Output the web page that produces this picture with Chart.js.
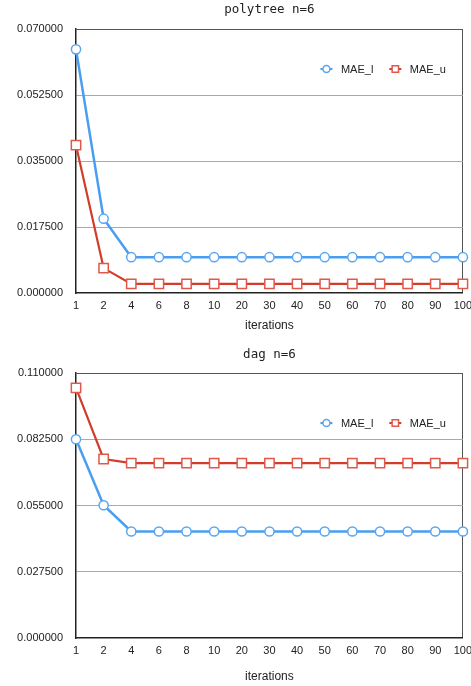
<!DOCTYPE html>
<html><head><meta charset="utf-8">
<script src="https://cdn.jsdelivr.net/npm/chart.js@4/dist/chart.umd.min.js"></script>
<style>
html,body{margin:0;padding:0;background:#fff;}
.w{position:relative;width:471px;height:343px;}
</style>
</head><body>
<div class="w"><canvas id="c1"></canvas></div>
<div class="w"><canvas id="c2"></canvas></div>
<script>
// ---- data ----
const iterations = ['1','2','4','6','8','10','20','30','40','50','60','70','80','90','100'];

const polytreeMAE_l = [0.0646, 0.0197, 0.0095, 0.0095, 0.0095, 0.0095, 0.0095, 0.0095, 0.0095, 0.0095, 0.0095, 0.0095, 0.0095, 0.0095, 0.0095];
const polytreeMAE_u = [0.0392, 0.0066, 0.0024, 0.0024, 0.0024, 0.0024, 0.0024, 0.0024, 0.0024, 0.0024, 0.0024, 0.0024, 0.0024, 0.0024, 0.0024];

const dagMAE_l = [0.0825, 0.0551, 0.0442, 0.0442, 0.0442, 0.0442, 0.0442, 0.0442, 0.0442, 0.0442, 0.0442, 0.0442, 0.0442, 0.0442, 0.0442];
const dagMAE_u = [0.1038, 0.0743, 0.0726, 0.0726, 0.0726, 0.0726, 0.0726, 0.0726, 0.0726, 0.0726, 0.0726, 0.0726, 0.0726, 0.0726, 0.0726];

const polytreeYTicks = [0, 0.0175, 0.035, 0.0525, 0.07];
const dagYTicks = [0, 0.0275, 0.055, 0.0825, 0.11];

const seriesNames = ['MAE_l', 'MAE_u'];
const chartTitles = ['polytree n=6', 'dag n=6'];
const xAxisTitle = 'iterations';

// ---- styling ----
Chart.defaults.font.family = '"Liberation Sans", Arial, Helvetica, sans-serif';
Chart.defaults.font.size = 11;
Chart.defaults.color = '#222';

const BLUE = '#4a9ef2', BLUE_PT = '#5aa6f2';
const RED = '#d23c2a', RED_PT = '#e0584a';

const insideLegend = {
  id: 'insideLegend',
  afterDraw(chart, args, opts) {
    const ctx = chart.ctx, area = chart.chartArea;
    const y = area.top + opts.offsetY;
    ctx.save();
    ctx.font = '11px "Liberation Sans", Arial, sans-serif';
    ctx.textBaseline = 'middle';
    ctx.textAlign = 'left';
    let x = area.right - 17;
    const items = chart.data.datasets.slice().reverse();
    for (const ds of items) {
      const w = ctx.measureText(ds.label).width;
      const tx = x - w;
      ctx.fillStyle = '#222';
      ctx.fillText(ds.label, tx, y + 0.5);
      const cx = tx - 14.5;
      ctx.strokeStyle = ds.borderColor; ctx.lineWidth = 2;
      ctx.beginPath(); ctx.moveTo(cx - 6, y); ctx.lineTo(cx + 6, y); ctx.stroke();
      ctx.fillStyle = '#fff'; ctx.strokeStyle = ds.pointBorderColor; ctx.lineWidth = 1.5;
      ctx.beginPath();
      if (ds.pointStyle === 'rect') ctx.rect(cx - 3.2, y - 3.2, 6.4, 6.4);
      else ctx.arc(cx, y, 3.5, 0, Math.PI * 2);
      ctx.fill(); ctx.stroke();
      x = cx - 6 - 16;
    }
    ctx.restore();
  }
};

function makeChart(id, title, lData, uData, yTicks, layoutOpts) {
  const yMin = yTicks[0], yMax = yTicks[yTicks.length - 1];
  return new Chart(document.getElementById(id), {
    type: 'line',
    data: {
      labels: iterations,
      datasets: [
        { label: seriesNames[0], data: lData, borderColor: BLUE, borderWidth: 2.5,
          pointStyle: 'circle', pointRadius: 4.6, pointBorderWidth: 1.5,
          pointBackgroundColor: '#fff', pointBorderColor: BLUE_PT, tension: 0 },
        { label: seriesNames[1], data: uData, borderColor: RED, borderWidth: 2.2,
          pointStyle: 'rect', pointRadius: 6.6, pointBorderWidth: 1.5,
          pointBackgroundColor: '#fff', pointBorderColor: RED_PT, tension: 0 }
      ]
    },
    plugins: [insideLegend],
    options: {
      responsive: true, maintainAspectRatio: false, animation: false,
      layout: { padding: 0 },
      plugins: {
        legend: { display: false },
        tooltip: { enabled: false },
        insideLegend: { offsetY: layoutOpts.legendY },
        title: {
          display: true, text: title, fullSize: false, color: '#222',
          font: { family: '"DejaVu Sans Mono", monospace', size: 12.5, weight: 'normal', lineHeight: 1.2 },
          padding: { top: layoutOpts.titleTop, bottom: layoutOpts.titleBottom }
        }
      },
      scales: {
        x: {
          offset: false,
          grid: {
            drawTicks: false,
            color: c => (c.index === iterations.length - 1 ? '#555' : 'rgba(0,0,0,0)'),
            lineWidth: 1
          },
          border: { display: true, color: '#222', width: 1.5 },
          ticks: { padding: 6, maxRotation: 0, autoSkip: false, color: '#222' },
          title: { display: true, text: xAxisTitle, color: '#222',
                   font: { size: 12 }, padding: { top: layoutOpts.xtTop, bottom: layoutOpts.xtBottom } },
          afterFit: s => { s.paddingRight = 8; s.paddingLeft = 0; }
        },
        y: {
          min: yMin, max: yMax,
          afterBuildTicks: s => { s.ticks = yTicks.map(v => ({ value: v })); },
          afterFit: s => { s.width = 76; },
          grid: {
            drawTicks: false,
            color: c => (c.tick && Math.abs(c.tick.value - yMax) < 1e-9 ? '#555' : (c.tick && c.tick.value === 0 ? 'rgba(0,0,0,0)' : '#aaa')),
            lineWidth: 1
          },
          border: { display: true, color: '#222', width: 1.5 },
          ticks: { padding: 13, color: '#222', callback: v => Number(v).toFixed(6) }
        }
      }
    }
  });
}

makeChart('c1', chartTitles[0], polytreeMAE_l, polytreeMAE_u, polytreeYTicks,
  { legendY: 40, titleTop: 2.5, titleBottom: 11.5, xtTop: 0.6, xtBottom: 9.8 });
makeChart('c2', chartTitles[1], dagMAE_l, dagMAE_u, dagYTicks,
  { legendY: 50, titleTop: 4.5, titleBottom: 10.5, xtTop: 6.6, xtBottom: 1.8 });
</script>
</body></html>
